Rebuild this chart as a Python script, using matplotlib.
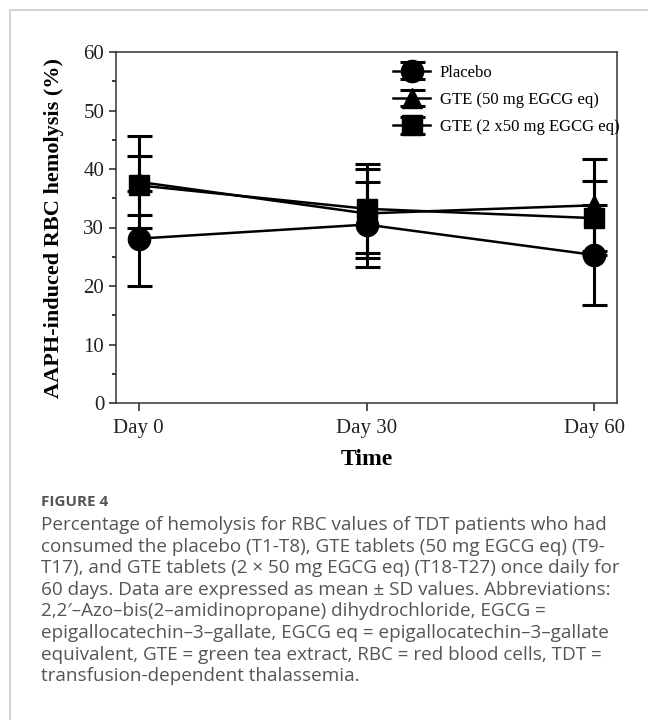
import numpy as np
import matplotlib
matplotlib.use("Agg")
import matplotlib.pyplot as plt
from matplotlib.lines import Line2D
from matplotlib.ticker import MultipleLocator

# data (mean and SD per time point)
days = [0, 30, 60]
day_labels = ["Day 0", "Day 30", "Day 60"]

placebo_mean = [28.1, 30.5, 25.3]
placebo_sd = [8.1, 7.3, 8.6]
gte50_mean = [37.8, 32.4, 33.8]
gte50_sd = [7.9, 7.6, 7.9]
gte100_mean = [37.2, 33.2, 31.6]
gte100_sd = [5.1, 7.6, 6.3]

series_labels = ["Placebo", "GTE (50 mg EGCG eq)", "GTE (2 x50 mg EGCG eq)"]

caption_title = "FIGURE 4"
caption_lines = [
    "Percentage of hemolysis for RBC values of TDT patients who had",
    "consumed the placebo (T1-T8), GTE tablets (50 mg EGCG eq) (T9-",
    "T17), and GTE tablets (2 \u00d7 50 mg EGCG eq) (T18-T27) once daily for",
    "60 days. Data are expressed as mean \u00b1 SD values. Abbreviations:",
    "2,2\u2032\u2013Azo\u2013bis(2\u2013amidinopropane) dihydrochloride, EGCG =",
    "epigallocatechin\u20133\u2013gallate, EGCG eq = epigallocatechin\u20133\u2013gallate",
    "equivalent, GTE = green tea extract, RBC = red blood cells, TDT =",
    "transfusion-dependent thalassemia.",
]

serif = ["Liberation Serif", "DejaVu Serif"]

fig = plt.figure(figsize=(6.48, 7.2), dpi=100)
ax = fig.add_axes([116 / 648, 1 - 403 / 720, 501 / 648, 351 / 720])

styles = [
    (placebo_mean, placebo_sd, "o", 16),
    (gte50_mean, gte50_sd, "^", 15),
    (gte100_mean, gte100_sd, "s", 14),
]
for (m, sd, mk, ms), lab in zip(styles, series_labels):
    ax.errorbar(days, m, yerr=sd, fmt="-" + mk, color="black", ms=ms,
                lw=1.8, elinewidth=2.2, capsize=9, capthick=2.2, label=lab)

ax.set_xlim(-3, 63)
ax.set_ylim(0, 60)
ax.set_xticks(days)
ax.set_xticklabels(day_labels)
ax.yaxis.set_major_locator(MultipleLocator(10))
ax.yaxis.set_minor_locator(MultipleLocator(5))
ax.tick_params(axis="both", direction="out", labelsize=15, colors="#222222")
ax.tick_params(axis="y", which="major", length=5, width=1.1)
ax.tick_params(axis="y", which="minor", length=3, width=1.1)
ax.tick_params(axis="x", length=5.5, width=1.1, pad=6)
for lbl in ax.get_xticklabels() + ax.get_yticklabels():
    lbl.set_family(serif)
for sp in ax.spines.values():
    sp.set_linewidth(1.1)
    sp.set_color("#333333")

ax.set_xlabel("Time", family=serif, fontsize=17, fontweight="bold", labelpad=8)
ax.set_ylabel("AAPH-induced RBC hemolysis (%)", family=serif, fontsize=16,
              fontweight="bold", labelpad=14)

ax.legend(loc="upper left", bbox_to_anchor=(0.54, 0.983), frameon=False,
          prop={"family": serif, "size": 12}, handlelength=2.2,
          handletextpad=0.6, labelspacing=0.68, borderaxespad=0)

# card border (top and left)
fig.add_artist(Line2D([9.5 / 648, 1], [1 - 9.5 / 720] * 2, color="#cfcfcf", lw=1.3))
fig.add_artist(Line2D([9.5 / 648] * 2, [0, 1 - 9.5 / 720], color="#cfcfcf", lw=1.3))

cap_font = ["Open Sans", "DejaVu Sans"]
fig.text(41 / 648, 1 - 502 / 720, caption_title, family=cap_font, fontsize=11,
         color="#555555", va="center", fontweight="bold")
for i, line in enumerate(caption_lines):
    fig.text(41 / 648, 1 - (525 + i * 21.6) / 720, line, family=cap_font,
             fontsize=13.6, color="#555555", va="center")

fig.savefig("out.png", dpi=100)
